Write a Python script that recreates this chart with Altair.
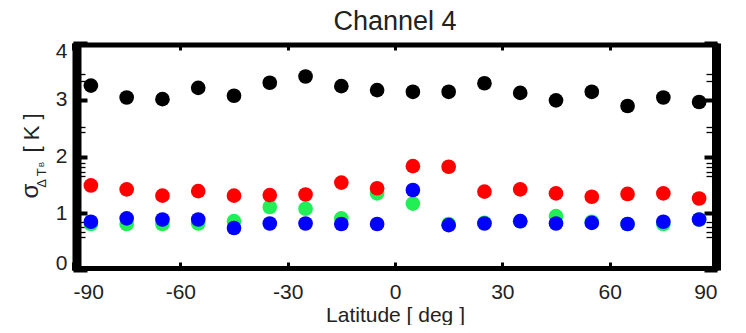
import altair as alt
import pandas as pd

# ---- data ----
latitudes = [-85, -75, -65, -55, -45, -35, -25, -15, -5, 5, 15, 25, 35, 45, 55, 65, 75, 85]
black_vals = [3.25, 3.04, 3.01, 3.21, 3.07, 3.30, 3.41, 3.24, 3.17, 3.14, 3.14, 3.29, 3.12, 2.99, 3.14, 2.89, 3.04, 2.96]
red_vals = [1.49, 1.42, 1.31, 1.39, 1.31, 1.32, 1.33, 1.54, 1.44, 1.83, 1.82, 1.38, 1.42, 1.35, 1.29, 1.34, 1.35, 1.26]
green_vals = [0.81, 0.81, 0.81, 0.82, 0.86, 1.11, 1.08, 0.91, 1.35, 1.17, 0.81, 0.83, 0.86, 0.95, 0.85, 0.81, 0.81, 0.89]
blue_vals = [0.85, 0.91, 0.89, 0.89, 0.74, 0.82, 0.82, 0.81, 0.81, 1.41, 0.79, 0.82, 0.86, 0.82, 0.83, 0.81, 0.85, 0.89]

series_names = ["green", "blue", "red", "black"]
series_colors = ["#22ee55", "#0000ff", "#ff0000", "#000000"]
x_ticks = [-90, -60, -30, 0, 30, 60, 90]
y_ticks = [0, 1, 2, 3, 4]
minor_y_ticks = [3.46, 3.33, 2.52, 2.43, 1.88, 1.81, 1.73, 1.65, 0.84, 0.76, 0.67, 0.59]

rows = []
for name, vals in zip(series_names, [green_vals, blue_vals, red_vals, black_vals]):
    for la, v in zip(latitudes, vals):
        rows.append({"lat": la, "val": v, "series": name})
df = pd.DataFrame(rows)

FONT = "Liberation Sans"
xs = alt.Scale(domain=[-90, 90], nice=False, zero=False)
ys = alt.Scale(domain=[0, 4], nice=False)


def blank_axis(orient, **kw):
    base = dict(orient=orient, labels=False, ticks=False, domain=False, grid=False, title=None)
    base.update(kw)
    return alt.Axis(**base)


def axis_layer(x_axis, y_axis):
    enc = {}
    enc["x"] = alt.X("lat:Q", scale=xs, axis=x_axis)
    enc["y"] = alt.Y("val:Q", scale=ys, axis=y_axis)
    return alt.Chart(df).mark_point(opacity=0).encode(**enc)


points = alt.Chart(df).mark_circle(size=215, opacity=1).encode(
    x=alt.X("lat:Q", scale=xs,
            axis=alt.Axis(orient="bottom", values=x_ticks, ticks=False, tickSize=0, domain=False,
                          grid=False, labelPadding=11, labelFontSize=21, labelFont=FONT,
                          labelExpr="'' + datum.value",
                          labelColor="#222", title="Latitude [ deg ]", titleFont=FONT,
                          titleFontSize=21, titleFontWeight="normal", titleColor="#222",
                          titlePadding=2)),
    y=alt.Y("val:Q", scale=ys,
            axis=alt.Axis(orient="left", values=y_ticks, ticks=False, tickSize=0, domain=False,
                          grid=False, labelPadding=6, labelFontSize=21, labelFont=FONT,
                          labelExpr="'' + datum.value",
                          labelColor="#222", labelFlush=True, labelFlushOffset=3, title=None)),
    color=alt.Color("series:N", scale=alt.Scale(domain=series_names, range=series_colors), legend=None),
    order=alt.Order("ord:Q"),
).transform_calculate(ord="indexof(['green','blue','red','black'], datum.series)")

# inward major ticks
top_ticks = axis_layer(
    blank_axis("top", ticks=True, values=x_ticks, tickSize=7, tickWidth=3, tickColor="black", offset=-7),
    blank_axis("right", ticks=True, values=y_ticks, tickSize=13, tickWidth=4, tickColor="black", offset=-13),
)
bottom_ticks = axis_layer(
    blank_axis("bottom", ticks=True, values=x_ticks, tickSize=8, tickWidth=3, tickColor="black", offset=-8),
    blank_axis("left", ticks=True, values=y_ticks, tickSize=14, tickWidth=4, tickColor="black", offset=-14),
)
# frame
frame_a = axis_layer(
    blank_axis("top", domain=True, domainWidth=5, domainColor="black", offset=-1.5),
    blank_axis("right", domain=True, domainWidth=9, domainColor="black", offset=-1),
)
frame_b = axis_layer(
    blank_axis("bottom", domain=True, domainWidth=5, domainColor="black", offset=-2),
    blank_axis("left", domain=True, domainWidth=9, domainColor="black", offset=-3.5),
)
# minor ticks
minor_left = axis_layer(
    None,
    blank_axis("left", ticks=True, values=minor_y_ticks, tickSize=12, tickWidth=1.3, tickColor="black", offset=-12),
)
minor_right = axis_layer(
    None,
    blank_axis("right", ticks=True, values=minor_y_ticks, tickSize=11, tickWidth=1.3, tickColor="black", offset=-11),
)

# y-axis title with subscript, as text
ytitle_parts = ["σ", "Δ T", "B", "[ K ]"]
ytitle_x = [-42, -31.5, -31.5, -41.5]
ytitle_y = [148, 135, 121.5, 90]
ytitle_size = [24, 13, 8, 22]
ytitle = []
for t, px, py, fs in zip(ytitle_parts, ytitle_x, ytitle_y, ytitle_size):
    ytitle.append(
        alt.Chart(pd.DataFrame({"t": [t]})).mark_text(
            angle=270, align="center", baseline="middle", font=FONT, fontSize=fs, color="#222"
        ).encode(text="t:N", x=alt.value(px), y=alt.value(py))
    )

chart = alt.layer(
    points, top_ticks, bottom_ticks, minor_left, minor_right, frame_a, frame_b, *ytitle
).resolve_axis(x="independent", y="independent").properties(
    width=644, height=227,
    padding={"left": 65, "top": 35, "right": 21, "bottom": 55},
    autosize=alt.AutoSizeParams(type="none"),
    title=alt.TitleParams("Channel 4", font=FONT, fontSize=27, fontWeight="normal", color="#222",
                          anchor="middle", offset=4),
).configure_view(stroke=None).configure(background="white")

chart.save("out.html", embed_options={"renderer": "svg", "actions": False})
